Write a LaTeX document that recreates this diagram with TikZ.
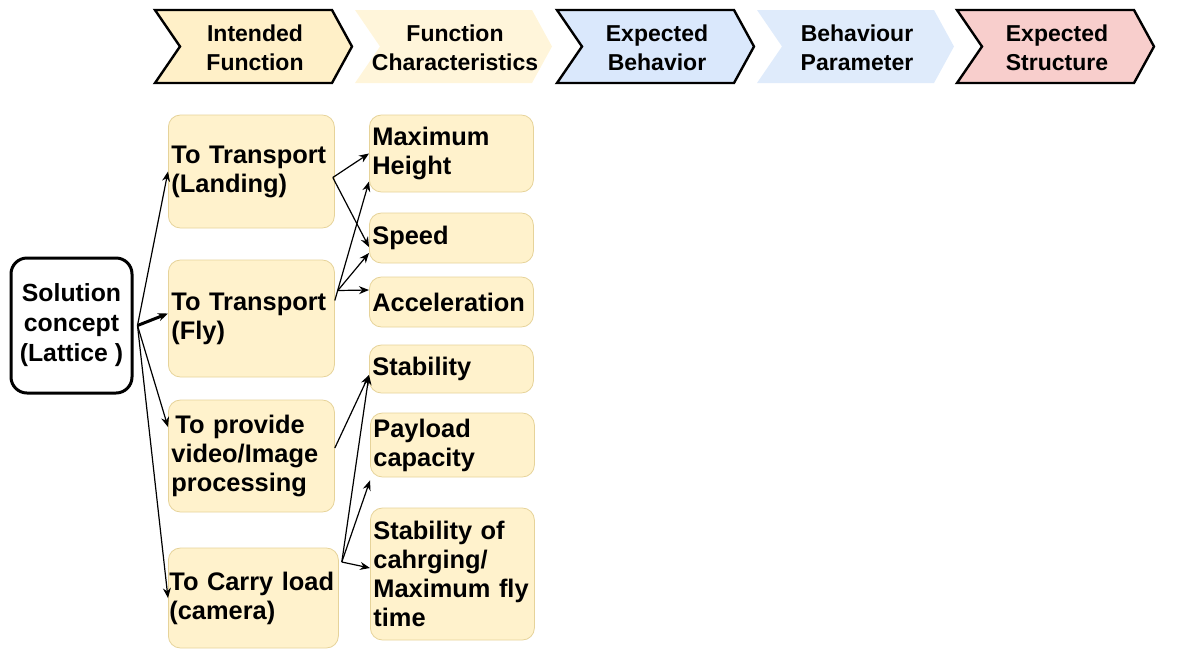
\documentclass[tikz,border=0pt]{standalone}
\usepackage{fontspec}
\setmainfont{Liberation Sans}
\usepackage{tikz}
\usetikzlibrary{arrows.meta}
\tikzset{>={Stealth[length=5pt,width=4pt]}}
\definecolor{funcfill}{HTML}{FFF2CC}
\definecolor{funcline}{HTML}{E6D39A}
\definecolor{hdryel}{HTML}{FFF0C8}
\definecolor{hdryellt}{HTML}{FFF5DA}
\definecolor{hdrblue}{HTML}{DAE8FC}
\definecolor{hdrbluelt}{HTML}{DFEBFB}
\definecolor{hdrpink}{HTML}{F8CECC}

\begin{document}
\begin{tikzpicture}[x=0.5pt,y=-0.5pt,
    func/.style={draw=funcline, fill=funcfill, rounded corners=6pt, anchor=west,
      inner xsep=1.5pt, inner ysep=0pt, align=left,
      font=\bfseries\fontsize{12.7}{14.5}\selectfont},
    solbox/.style={draw, line width=1.5pt, rounded corners=8pt, fill=white,
      align=center, minimum width=60.5pt, minimum height=67.5pt,
      font=\bfseries\fontsize{12.4}{15}\selectfont},
    hdr/.style={align=center, font=\bfseries\fontsize{11.5}{14.5}\selectfont},
    link/.style={->, line width=0.6pt}]
  \useasboundingbox (0,0) rectangle (1179,650);

  % header arrows
  \foreach \x/\fc/\lc/\t [count=\i] in {155/hdryel/black/{Intended\\Function},
      355/hdryellt/none/{Function\\Characteristics},
      557/hdrblue/black/{Expected\\Behavior},
      757/hdrbluelt/none/{Behaviour\\Parameter},
      957/hdrpink/black/{Expected\\Structure}}{
    \filldraw[fill=\fc, draw=\lc, line width=1.2pt, line join=miter]
      (\x,10) -- (\x+177,10) -- (\x+197,46.5) -- (\x+177,83) -- (\x,83)
      -- (\x+25,46.5) -- cycle;
    \node[hdr] (h\i) at (\x+100,47.5) {\t};
  }

  % solution concept
  \node[solbox] (sol) at (71.5,325.5) {Solution\\concept\\(Lattice )};

  % intended functions
  \node[func, minimum width=83pt, text width=80pt, minimum height=56.5pt] (land) at (168,171.5) {To Transport\\(Landing)};
  \node[func, minimum width=83pt, text width=80pt, minimum height=58.5pt] (fly) at (168,318.5) {To Transport\\(Fly)};
  \node[func, minimum width=83pt, text width=80pt, minimum height=56pt] (video) at (168,456) {\hspace*{2pt}To provide\\video/Image\\processing};
  \node[func, inner xsep=0.5pt, minimum width=85pt, text width=84pt, minimum height=50pt] (carry) at (168,598) {To Carry load\\(camera)};

  % characteristics
  \node[func, minimum width=82pt, text width=79pt, minimum height=38.5pt] (maxh) at (369,153.5) {Maximum\\Height};
  \node[func, minimum width=82pt, text width=79pt, minimum height=25pt] (speed) at (369,238) {Speed};
  \node[func, minimum width=82pt, text width=79pt, minimum height=25pt] (accel) at (369,302) {Acceleration};
  \node[func, minimum width=82pt, text width=79pt, minimum height=24pt] (stab) at (369,369) {Stability};
  \node[func, minimum width=82pt, text width=79pt, minimum height=32pt] (payload) at (370,445) {Payload\\capacity};
  \node[func, minimum width=82pt, text width=79pt, minimum height=66pt] (charge) at (370,574) {Stability of\\cahrging/\\Maximum fly\\time};

  % links
  \coordinate (so) at ([xshift=2pt]sol.east);
  \draw[link] (so) -- (land.west);
  \draw[link, line width=1.5pt] (so) -- ([yshift=2.5pt]fly.west);
  \draw[link] (so) -- ([yshift=14.5pt]video.west);
  \draw[link] (so) -- (carry.west);

  \coordinate (lo) at ([xshift=-1pt,yshift=-3pt]land.east);
  \draw[link] (lo) -- (maxh.west);
  \draw[link] (lo) -- ([yshift=-4.5pt]speed.west);

  \coordinate (fo) at ([xshift=1.5pt,yshift=14pt]fly.east);
  \draw[link] ([yshift=9pt]fly.east) -- ([yshift=-14pt]maxh.west);
  \draw[link] (fo) -- ([yshift=-7.5pt]speed.west);
  \draw[link] (fo) -- ([yshift=6pt]accel.west);

  \draw[link] ([yshift=4pt]video.east) -- ([yshift=-3pt]stab.west);

  \coordinate (co) at ([xshift=1.5pt,yshift=18pt]carry.east);
  \draw[link] (co) -- ([yshift=-3pt]stab.west);
  \draw[link] (co) -- ([yshift=-1.5pt]payload.south west);
  \draw[link] (co) -- ([yshift=3pt]charge.west);
\end{tikzpicture}
\end{document}
